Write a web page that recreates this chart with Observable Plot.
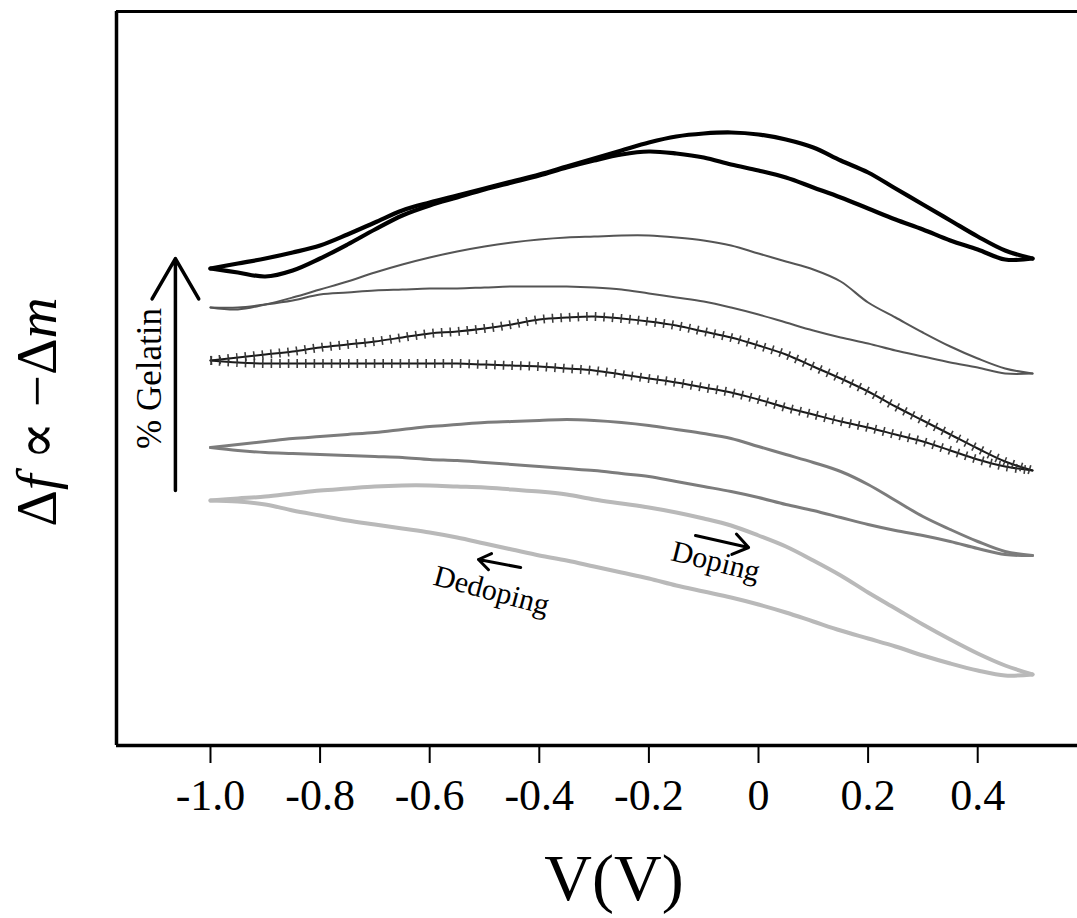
<!DOCTYPE html>
<html>
<head>
<meta charset="utf-8">
<script src="https://cdn.jsdelivr.net/npm/d3@7"></script>
<script src="https://cdn.jsdelivr.net/npm/@observablehq/plot@0.6"></script>
<style>
  html, body { margin: 0; padding: 0; background: #fff; }
  #chart svg { display: block; }
</style>
</head>
<body>
<div id="chart"></div>
<script>
// Applied potential (V), shared sampling for every branch
const voltage = [-1.00, -0.95, -0.90, -0.85, -0.80, -0.75, -0.70, -0.65, -0.60, -0.55,
                 -0.50, -0.45, -0.40, -0.35, -0.30, -0.25, -0.20, -0.15, -0.10, -0.05,
                  0.00,  0.05,  0.10,  0.15,  0.20,  0.25,  0.30,  0.35,  0.40,  0.45, 0.50];

// Δf (arbitrary units, ∝ −Δm), two branches per hysteresis loop; loops ordered by % gelatin (highest first)
const loop1A = [475,480,485,491,498,509,521,533,541,548,555,562,569,577,585,593,601,607,610,611,609,604,596,583,571,555,539,523,507,493,485];
const loop1B = [475,471,467,473,485,499,514,528,538,546,554,561,568,576,583,589,592,590,586,579,573,566,556,546,535,524,514,503,494,484,485];
const loop2A = [436,434,439,446,454,462,471,479,486,492,497,501,504,506,507,508,508,506,503,498,490,482,474,462,441,426,411,397,385,375,370];
const loop2B = [436,436,439,443,449,451,453,454,455,455,456,457,457,457,456,454,450,446,442,436,429,421,413,406,400,393,387,381,376,370,370];
const loop3A = [383,386,389,392,396,399,402,406,410,412,415,419,424,426,427,425,422,418,412,406,398,389,377,365,352,337,323,309,295,282,273];
const loop3B = [383,381,380,380,380,380,380,380,380,380,379,378,377,375,373,369,365,361,356,351,344,336,329,322,316,309,302,293,284,277,273];
const loop4A = [296,299,302,305,307,309,311,314,317,319,321,322,323,324,323,321,318,314,310,305,297,289,281,272,259,243,227,214,202,192,188];
const loop4B = [296,293,291,290,289,288,287,286,284,283,281,279,277,275,273,270,267,262,257,252,246,239,233,226,219,213,208,202,195,189,188];
const loop5A = [243,245,247,250,253,255,257,258,258,257,256,254,252,249,244,240,236,231,225,218,208,197,183,168,151,135,119,104,90,78,69];
const loop5B = [243,242,239,233,228,223,219,215,211,206,200,194,188,183,177,171,165,158,152,146,139,131,122,113,105,97,88,80,73,68,69];

const xTicks = [-1.0, -0.8, -0.6, -0.4, -0.2, 0, 0.2, 0.4];
const xTickLabels = ["-1.0", "-0.8", "-0.6", "-0.4", "-0.2", "0", "0.2", "0.4"];

const loopBranches = [[loop1A, loop1B], [loop2A, loop2B], [loop3A, loop3B], [loop4A, loop4B], [loop5A, loop5B]];

function rows(li) {
  const out = [];
  loopBranches[li].forEach((ys, bi) => {
    ys.forEach((y, i) => out.push({v: voltage[i], y, branch: bi}));
  });
  return out;
}
const d1 = rows(0), d2 = rows(1), d3r = rows(2), d4 = rows(3), d5 = rows(4);

const serif = "'Liberation Serif', 'Times New Roman', 'DejaVu Serif', serif";

const chart = Plot.plot({
  width: 1077,
  height: 918,
  marginLeft: 116,
  marginRight: 0,
  marginTop: 11,
  marginBottom: 173,
  x: {domain: [-1.1715, 0.5821], axis: null},
  y: {domain: [-2, 732], axis: null},
  style: {background: "#fff", color: "#000", fontFamily: serif, overflow: "visible"},
  marks: [
    // frame (left, top, bottom)
    Plot.ruleX([-1.1715], {y1: -2, y2: 732, stroke: "#000", strokeWidth: 3.5}),
    Plot.ruleY([732], {x1: -1.1715, x2: 0.5821, stroke: "#000", strokeWidth: 3}),
    Plot.ruleY([-2], {x1: -1.1715, x2: 0.5821, stroke: "#000", strokeWidth: 3.5}),
    Plot.axisX({ticks: xTicks, tickFormat: (d, i) => xTickLabels[i], tickSize: 18, tickPadding: 15,
                fontSize: 44, fontFamily: serif, stroke: "#000", strokeWidth: 2, label: null}),

    // loops
    Plot.line(d5, {x: "v", y: "y", z: "branch", stroke: "#b9b9b9", strokeWidth: 4, curve: "catmull-rom"}),
    Plot.line(d4, {x: "v", y: "y", z: "branch", stroke: "#7c7c7c", strokeWidth: 3, curve: "catmull-rom"}),
    Plot.line(d3r, {x: "v", y: "y", z: "branch", stroke: "#1a1a1a", strokeWidth: 2, curve: "catmull-rom"}),
    Plot.line(d3r, {x: "v", y: "y", z: "branch", stroke: "#333", strokeWidth: 9, strokeDasharray: "1.6,7",
                    strokeLinecap: "butt", strokeLinejoin: "miter", strokeOpacity: 0.95, curve: "catmull-rom"}),
    Plot.line(d2, {x: "v", y: "y", z: "branch", stroke: "#555", strokeWidth: 2, curve: "catmull-rom"}),
    Plot.line(d1, {x: "v", y: "y", z: "branch", stroke: "#000", strokeWidth: 4.2, curve: "catmull-rom"}),

    // % Gelatin arrow + label
    Plot.arrow([0], {x1: -1.064, x2: -1.064, y1: 253, y2: 485, stroke: "#000", strokeWidth: 3.5, headLength: 20, headAngle: 60}),
    Plot.text(["% Gelatin"], {x: -1.111, y: 365, rotate: -90, fontSize: 35, fontFamily: serif, fill: "#000"}),

    // Doping / Dedoping annotations
    Plot.arrow([0], {x1: -0.434, y1: 176, x2: -0.511, y2: 184, stroke: "#000", strokeWidth: 3, headLength: 11, headAngle: 70}),
    Plot.text(["Dedoping"], {x: -0.487, y: 153, rotate: 15, fontSize: 30, fontFamily: serif, fill: "#000"}),
    Plot.arrow([0], {x1: -0.115, y1: 208, x2: -0.018, y2: 196, stroke: "#000", strokeWidth: 3, headLength: 11, headAngle: 70}),
    Plot.text(["Doping"], {x: -0.078, y: 182, rotate: 14, fontSize: 30, fontFamily: serif, fill: "#000"})
  ]
});

document.getElementById("chart").appendChild(chart);

// Axis titles (with italic math letters)
const svg = d3.select(chart);
const yl = svg.append("text")
  .attr("transform", "translate(56,412) rotate(-90)")
  .attr("text-anchor", "middle")
  .attr("fill", "#000")
  .style("font-family", serif)
  .style("font-size", "57px");
yl.append("tspan").text("Δ");
yl.append("tspan").style("font-style", "italic").text("f");
yl.append("tspan").text(" ∝ −Δ");
yl.append("tspan").style("font-style", "italic").text("m");

svg.append("text")
  .attr("x", 614).attr("y", 900)
  .attr("text-anchor", "middle")
  .attr("fill", "#000")
  .style("font-family", serif)
  .style("font-size", "66px")
  .text("V(V)");
</script>
</body>
</html>
